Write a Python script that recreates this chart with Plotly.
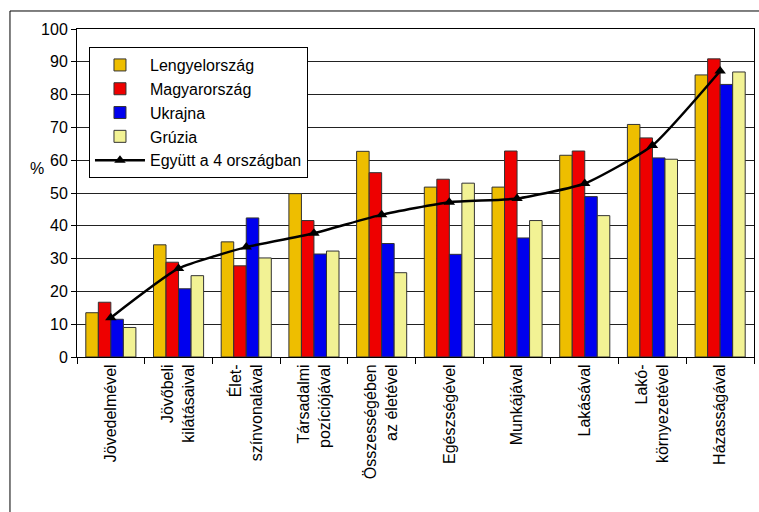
import plotly.graph_objects as go

categories = ["Jövedelmével", "Jövőbeli<br>kilátásaival", "Élet-<br>színvonalával",
              "Társadalmi<br>pozíciójával", "Összességében<br>az életével", "Egészségével",
              "Munkájával", "Lakásával", "Lakó-<br>környezetével", "Házasságával"]
lengyel = [13.5, 34.2, 35.1, 49.8, 62.7, 51.8, 51.8, 61.5, 70.9, 86.0]
magyar = [16.7, 28.9, 27.8, 41.6, 56.2, 54.2, 62.8, 62.8, 66.8, 90.9]
ukrajna = [11.5, 20.8, 42.4, 31.4, 34.6, 31.3, 36.3, 48.9, 60.7, 83.1]
gruzia = [9.0, 24.8, 30.2, 32.3, 25.7, 53.0, 41.6, 43.1, 60.3, 86.9]
egyutt = [12.0, 27.0, 33.5, 37.7, 43.4, 47.2, 48.3, 52.9, 64.5, 87.2]
yticks = [0, 10, 20, 30, 40, 50, 60, 70, 80, 90, 100]

fig = go.Figure()
series = [("Lengyelország", lengyel, "#EEBE00"),
          ("Magyarország", magyar, "#EE0000"),
          ("Ukrajna", ukrajna, "#0000EE"),
          ("Grúzia", gruzia, "#F2F294")]
for name, vals, col in series:
    fig.add_trace(go.Bar(x=categories, y=vals, name=name,
                         marker=dict(color=col, line=dict(color="#333333", width=1))))
fig.add_trace(go.Scatter(x=categories, y=egyutt, name="Együtt a 4 országban",
                         mode="lines+markers",
                         line=dict(color="black", width=2.5, shape="spline", smoothing=0.5),
                         marker=dict(symbol="triangle-up", size=10, color="black")))

font = "Liberation Sans, Arial, sans-serif"
fig.update_layout(
    width=759, height=512, autosize=False,
    margin=dict(l=77, r=5, t=29, b=155, autoexpand=False),
    paper_bgcolor="white", plot_bgcolor="white",
    barmode="group", bargap=0.26, bargroupgap=0,
    font=dict(family=font, size=16, color="black"),
    showlegend=True,
    legend=dict(x=0.0177, y=0.945, xanchor="left", yanchor="top",
                bgcolor="white", bordercolor="black", borderwidth=1,
                font=dict(size=16), tracegroupgap=0, itemwidth=50,
                traceorder="normal"),
    xaxis=dict(type="category", range=[-0.5, 9.5], tickangle=-90, ticks="outside",
               ticklen=6, tickcolor="black", tickson="boundaries", showline=True,
               linecolor="black", linewidth=1, mirror=True, showgrid=False,
               automargin=False, tickfont=dict(size=16, family=font)),
    yaxis=dict(range=[0, 100], tickvals=yticks, ticks="outside", ticklen=5,
               tickcolor="black", showline=True, linecolor="black", linewidth=1,
               mirror=True, showgrid=True, gridcolor="#222222", gridwidth=1,
               zeroline=False, automargin=False, tickfont=dict(size=16, family=font)),
    annotations=[dict(text="%", x=-0.072, y=0.576, xref="paper", yref="paper",
                      showarrow=False, font=dict(size=16, family=font))],
    shapes=[dict(type="rect", xref="paper", yref="paper",
                 x0=-0.099, y0=-0.6, x1=1.05, y1=1.0549,
                 line=dict(color="black", width=1), layer="below")],
)

fig.write_html("out.html",
               config={"displayModeBar": False, "responsive": False},
               post_script="document.body.style.margin='0';document.body.style.overflow='hidden';")
